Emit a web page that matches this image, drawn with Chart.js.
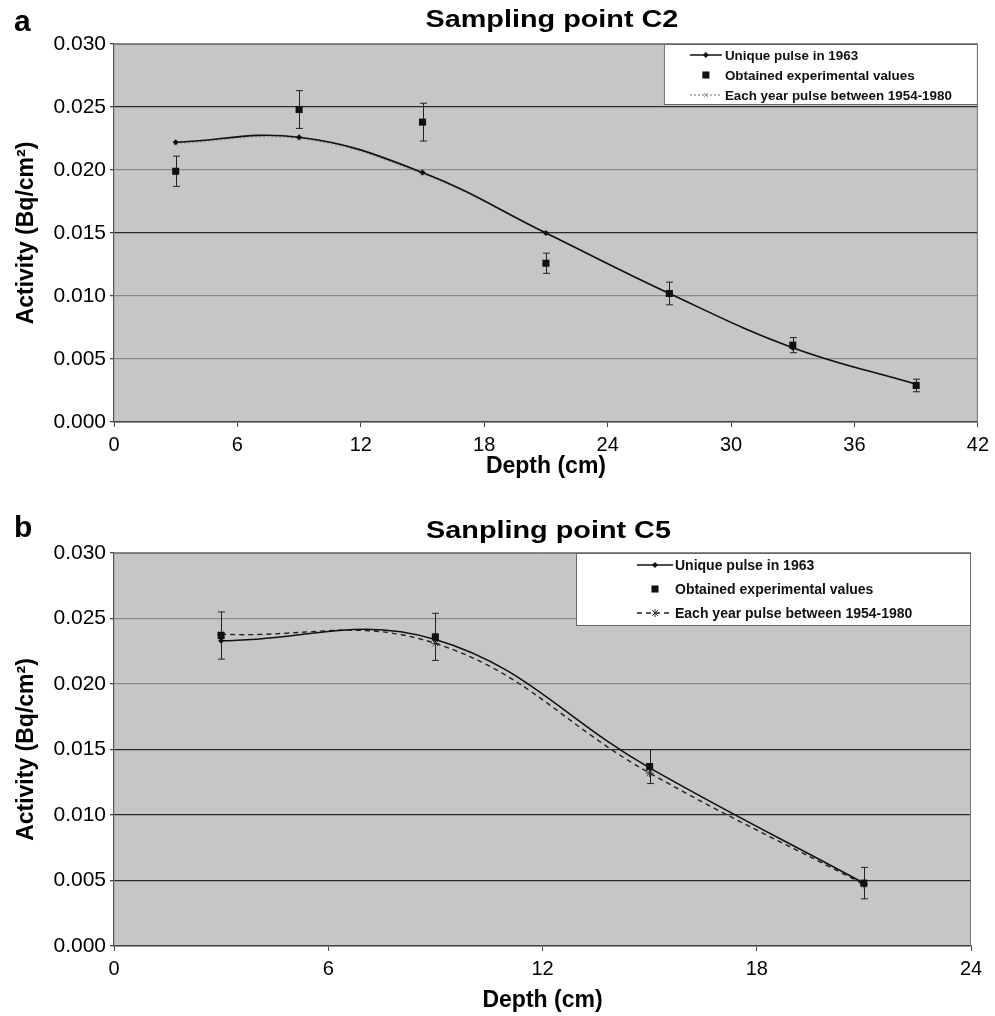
<!DOCTYPE html>
<html>
<head>
<meta charset="utf-8">
<script src="https://cdn.jsdelivr.net/npm/chart.js@4.4.1/dist/chart.umd.min.js"></script>
<style>
  body { margin: 0; background: #fff; }
  .panel { position: absolute; left: 0; width: 995px; }
</style>
</head>
<body>
<div class="panel" style="top:0;height:484px"><canvas id="chartA"></canvas></div>
<div class="panel" style="top:510px;height:506px"><canvas id="chartB"></canvas></div>
<script>
// sampling point C2 (depth in cm, activity in Bq/cm2)
const depthA = [3, 9, 15, 21, 27, 33, 39];
const uniqueA = [0.0222, 0.0226, 0.0198, 0.0150, 0.0102, 0.0059, 0.0030];
const measuredA = [0.0199, 0.0248, 0.0238, 0.0126, 0.0102, 0.0061, 0.0029];
const errorA = [0.0012, 0.0015, 0.0015, 0.0008, 0.0009, 0.0006, 0.0005];
const yearlyA = [0.0221, 0.0225, 0.0197, 0.0150, 0.0102, 0.0059, 0.0030];

// sampling point C5
const depthB = [3, 9, 15, 21];
const uniqueB = [0.0233, 0.0234, 0.0136, 0.0048];
const measuredB = [0.0237, 0.0236, 0.0137, 0.0048];
const errorB = [0.0018, 0.0018, 0.0013, 0.0012];
const yearlyB = [0.0238, 0.0231, 0.0132, 0.0047];

const activityTicks = [0, 0.005, 0.010, 0.015, 0.020, 0.025, 0.030];
const depthTicksA = [0, 6, 12, 18, 24, 30, 36, 42];
const depthTicksB = [0, 6, 12, 18, 24];
const seriesNames = ['Unique pulse in 1963', 'Obtained experimental values', 'Each year pulse between 1954-1980'];

const pts = (xs, ys) => xs.map((x, i) => ({ x: x, y: ys[i] }));

function drawMarker(ctx, style, x, y, r, color) {
  ctx.save();
  ctx.fillStyle = color;
  ctx.strokeStyle = color;
  ctx.lineWidth = 1;
  ctx.setLineDash([]);
  ctx.beginPath();
  if (style === 'rect') {
    const s = r * Math.SQRT1_2;
    ctx.fillRect(x - s, y - s, 2 * s, 2 * s);
  } else if (style === 'rectRot') {
    ctx.moveTo(x, y - r); ctx.lineTo(x + r, y); ctx.lineTo(x, y + r); ctx.lineTo(x - r, y);
    ctx.closePath(); ctx.fill();
  } else {
    const s = r * Math.SQRT1_2;
    ctx.moveTo(x - s, y - s); ctx.lineTo(x + s, y + s);
    ctx.moveTo(x + s, y - s); ctx.lineTo(x - s, y + s);
    if (style === 'star') { ctx.moveTo(x, y - r); ctx.lineTo(x, y + r); }
    ctx.stroke();
  }
  ctx.restore();
}

// grey plot area and its frame
const plotBack = {
  id: 'plotBack',
  beforeDraw(chart) {
    const { ctx, chartArea: a } = chart;
    ctx.save();
    ctx.fillStyle = '#c6c6c6';
    ctx.fillRect(a.left, a.top, a.right - a.left, a.bottom - a.top);
    ctx.restore();
  },
  afterDatasetsDraw(chart) {
    const { ctx, chartArea: a } = chart;
    ctx.save();
    ctx.strokeStyle = '#777';
    ctx.lineWidth = 1;
    ctx.beginPath();
    ctx.moveTo(a.left, a.top + 0.5); ctx.lineTo(a.right - 0.5, a.top + 0.5); ctx.lineTo(a.right - 0.5, a.bottom);
    ctx.stroke();
    ctx.restore();
  }
};

// error bars on the experimental series
const errorBars = {
  id: 'errorBars',
  beforeDatasetsDraw(chart, args, opts) {
    const { ctx, scales: { x, y } } = chart;
    const ds = chart.data.datasets[1];
    ctx.save();
    ctx.strokeStyle = '#222';
    ctx.lineWidth = 1;
    ds.data.forEach((p, i) => {
      const px = Math.round(x.getPixelForValue(p.x)) + 0.5;
      const top = y.getPixelForValue(p.y + opts.errors[i]);
      const bot = y.getPixelForValue(p.y - opts.errors[i]);
      ctx.beginPath();
      ctx.moveTo(px, top); ctx.lineTo(px, bot);
      ctx.moveTo(px - 3.5, top); ctx.lineTo(px + 3.5, top);
      ctx.moveTo(px - 3.5, bot); ctx.lineTo(px + 3.5, bot);
      ctx.stroke();
    });
    ctx.restore();
  }
};

// white legend box inside the plot, top right
const boxLegend = {
  id: 'boxLegend',
  afterDraw(chart, args, o) {
    const { ctx, chartArea: a } = chart;
    const bx = a.right - o.width, by = a.top;
    ctx.save();
    ctx.fillStyle = '#fff';
    ctx.fillRect(bx, by, o.width, o.height);
    ctx.strokeStyle = '#666';
    ctx.lineWidth = 1;
    ctx.strokeRect(bx + 0.5, by + 0.5, o.width - 1, o.height - 1);
    ctx.font = o.font;
    ctx.textBaseline = 'middle';
    ctx.textAlign = 'left';
    chart.data.datasets.forEach((ds, i) => {
      const cy = by + o.rowTop + i * o.rowGap;
      const x0 = bx + o.sampleX0, x1 = bx + o.sampleX1;
      if (ds.showLine) {
        ctx.save();
        ctx.strokeStyle = ds.borderColor;
        ctx.lineWidth = ds.borderWidth;
        ctx.setLineDash(ds.borderDash || []);
        ctx.beginPath();
        ctx.moveTo(x0, cy); ctx.lineTo(x1, cy);
        ctx.stroke();
        ctx.restore();
      }
      drawMarker(ctx, ds.pointStyle, (x0 + x1) / 2, cy, ds.pointRadius, ds.pointBorderColor || ds.pointBackgroundColor);
      ctx.fillStyle = '#111';
      ctx.fillText(ds.label, bx + o.textX, cy + 1);
    });
    ctx.restore();
  }
};

// panel letter and chart heading
const heading = {
  id: 'heading',
  afterDraw(chart, args, o) {
    const { ctx, chartArea: a } = chart;
    ctx.save();
    ctx.fillStyle = '#000';
    ctx.textBaseline = 'alphabetic';
    ctx.font = 'bold 30px "Liberation Sans", Arial, sans-serif';
    ctx.textAlign = 'left';
    ctx.fillText(o.letter, 14, o.letterY);
    ctx.translate((a.left + a.right) / 2 + 6, o.titleY);
    ctx.scale(1.2, 1);
    ctx.font = 'bold 24px "Liberation Sans", Arial, sans-serif';
    ctx.textAlign = 'center';
    ctx.fillText(o.text, 0, 0);
    ctx.restore();
  }
};

function makeChart(id, depth, unique, measured, errors, yearly, yearlyStyle, depthTicks, xMax, box, head, axisHeight, padRight, darkLines) {
  const font = (size, bold) => ({ family: '"Liberation Sans", Arial, sans-serif', size: size, weight: bold ? 'bold' : 'normal' });
  return new Chart(document.getElementById(id), {
    type: 'scatter',
    data: {
      datasets: [
        {
          label: seriesNames[0], data: pts(depth, unique), showLine: true, tension: 0.4,
          borderColor: '#111', borderWidth: 1.6, pointStyle: 'rectRot', pointRadius: 3,
          pointBackgroundColor: '#111', pointBorderWidth: 0, order: 1
        },
        {
          label: seriesNames[1], data: pts(depth, measured), showLine: false,
          pointStyle: 'rect', pointRadius: 5, pointBackgroundColor: '#111', pointBorderWidth: 0, order: 0
        },
        Object.assign({
          label: seriesNames[2], data: pts(depth, yearly), showLine: true, tension: 0.4, order: 2
        }, yearlyStyle)
      ]
    },
    options: {
      responsive: true,
      maintainAspectRatio: false,
      devicePixelRatio: 1,
      animation: false,
      layout: { padding: { top: head.areaTop, right: padRight, left: 0, bottom: 0 } },
      scales: {
        x: {
          type: 'linear', min: 0, max: xMax,
          afterBuildTicks: s => { s.ticks = depthTicks.map(v => ({ value: v })); },
          afterFit: s => { s.height = axisHeight; },
          ticks: { color: '#000', font: font(20), padding: 6, maxRotation: 0 },
          grid: { drawOnChartArea: false, drawTicks: true, tickLength: 5, color: '#444' },
          border: { color: '#444', width: 1.5 },
          title: { display: true, text: 'Depth (cm)', color: '#000', font: font(23, true), padding: { top: 0, bottom: head.xTitlePad } }
        },
        y: {
          min: 0, max: 0.03,
          afterBuildTicks: s => { s.ticks = activityTicks.map(v => ({ value: v })); },
          afterFit: s => { s.width = 114; },
          ticks: { color: '#000', font: font(21), padding: 4, callback: v => v.toFixed(3) },
          grid: {
            tickLength: 4, tickColor: '#444', lineWidth: 1.3,
            color: c => darkLines.includes(c.tick.value) ? '#2a2a2a' : '#8a8a8a'
          },
          border: { color: '#555', width: 1.2 },
          title: { display: true, text: 'Activity (Bq/cm²)', color: '#000', font: font(23, true), padding: { top: 13, bottom: 0 } }
        }
      },
      plugins: {
        legend: { display: false },
        tooltip: { enabled: false },
        errorBars: { errors: errors },
        boxLegend: box,
        heading: head
      }
    },
    plugins: [plotBack, errorBars, boxLegend, heading]
  });
}

makeChart('chartA', depthA, uniqueA, measuredA, errorA, yearlyA,
  { borderColor: '#9a9a9a', borderWidth: 1.5, borderDash: [2, 2], pointStyle: 'crossRot', pointRadius: 3, pointBorderColor: '#8a8a8a', pointBorderWidth: 1 },
  depthTicksA, 42,
  { width: 314, height: 61, rowTop: 11, rowGap: 20, sampleX0: 26, sampleX1: 58, textX: 61, font: 'bold 13.4px "Liberation Sans", Arial, sans-serif' },
  { letter: 'a', letterY: 31, text: 'Sampling point C2', titleY: 27, areaTop: 44, xTitlePad: 4 },
  62, 16, [0.015, 0.025]);

makeChart('chartB', depthB, uniqueB, measuredB, errorB, yearlyB,
  { borderColor: '#222', borderWidth: 1.4, borderDash: [5, 4], pointStyle: 'star', pointRadius: 4, pointBorderColor: '#333', pointBorderWidth: 1 },
  depthTicksB, 24,
  { width: 395, height: 73, rowTop: 12, rowGap: 24, sampleX0: 61, sampleX1: 97, textX: 99, font: 'bold 14px "Liberation Sans", Arial, sans-serif' },
  { letter: 'b', letterY: 27, text: 'Sanpling point C5', titleY: 28, areaTop: 43, xTitlePad: 2 },
  70, 24, [0.005, 0.010, 0.015]);
</script>
</body>
</html>
